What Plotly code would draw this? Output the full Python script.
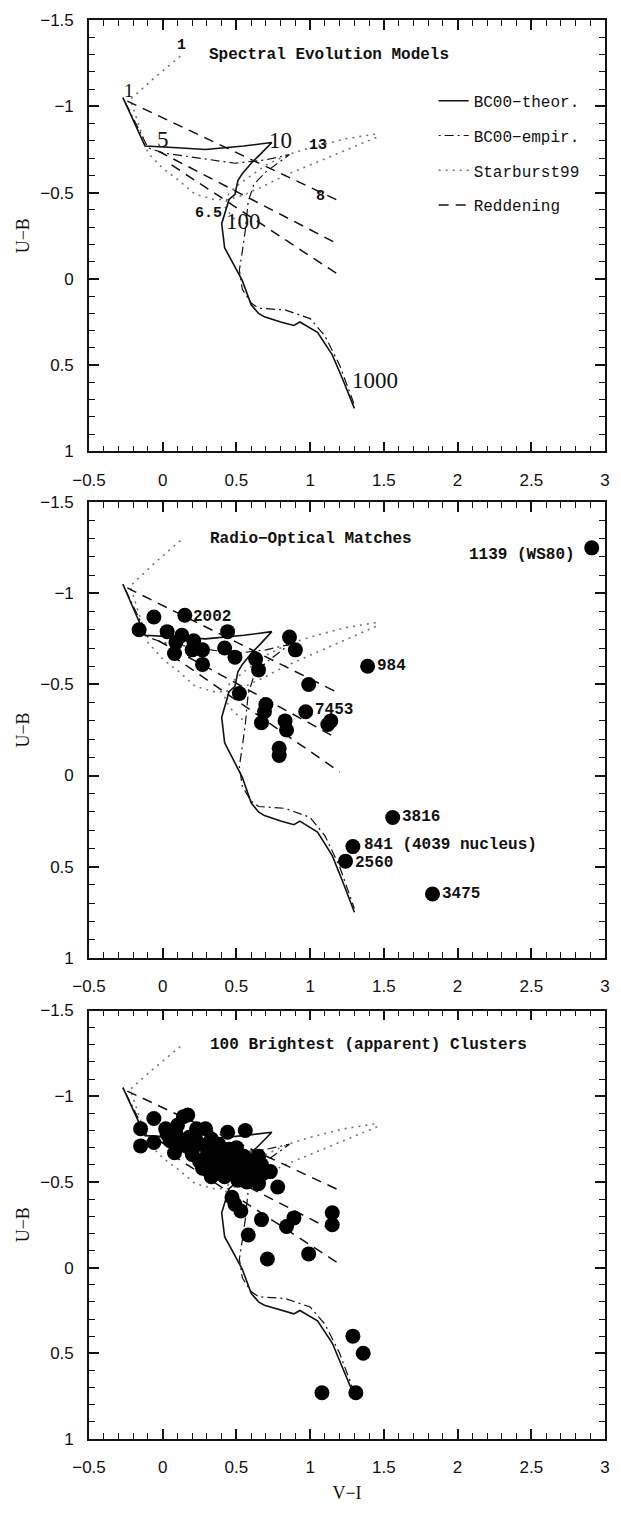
import plotly.graph_objects as go

# ---------------- data ----------------
# BC00 theoretical track (solid)
theor_vi = [-0.27, -0.12, 0.10, 0.29, 0.55, 0.74, 0.66, 0.60, 0.54, 0.51, 0.49, 0.45, 0.40, 0.42, 0.49, 0.54,
            0.60, 0.65, 0.69, 0.80, 0.89, 0.93, 1.05, 1.15, 1.22, 1.30]
theor_ub = [-1.05, -0.77, -0.76, -0.75, -0.77, -0.79, -0.72, -0.67, -0.61, -0.57, -0.49, -0.46, -0.32, -0.18, -0.07, 0.01,
            0.15, 0.20, 0.22, 0.25, 0.27, 0.25, 0.31, 0.44, 0.58, 0.75]
# BC00 empirical track (dash-dot)
empir_vi = [-0.27, -0.10, 0.00, 0.31, 0.49, 0.70, 0.86, 0.70, 0.62, 0.58, 0.56, 0.54, 0.52, 0.54, 0.60, 0.65,
            0.83, 1.00, 1.10, 1.20, 1.30]
empir_ub = [-1.05, -0.76, -0.73, -0.69, -0.67, -0.69, -0.72, -0.62, -0.55, -0.45, -0.28, -0.16, -0.05, 0.06, 0.14, 0.17,
            0.18, 0.23, 0.33, 0.50, 0.73]
# Starburst99 track (dotted)
sb99_vi = [0.12, -0.05, -0.22, -0.10, 0.00, 0.11, 0.22, 0.35, 0.45, 0.56, 0.69, 0.83, 1.00, 1.23, 1.45,
           1.45, 1.23, 1.00, 0.85, 0.70, 0.60, 0.52, 0.45, 0.42, 0.47, 0.55]
sb99_ub = [-1.29, -1.17, -1.04, -0.73, -0.64, -0.57, -0.49, -0.46, -0.46, -0.49, -0.54, -0.60, -0.66, -0.74, -0.82,
           -0.84, -0.81, -0.76, -0.72, -0.66, -0.60, -0.55, -0.50, -0.42, -0.36, -0.30]
# Reddening vectors (start / end)
red_vi0 = [-0.24, -0.03, 0.06]
red_ub0 = [-1.03, -0.74, -0.66]
red_vi1 = [1.20, 1.17, 1.20]
red_ub1 = [-0.45, -0.21, -0.02]

# Age labels (panel 1)
age_text = ["1", "5", "10", "100", "1000"]
age_vi = [-0.23, 0.00, 0.80, 0.55, 1.44]
age_ub = [-1.09, -0.81, -0.80, -0.33, 0.59]
sb_age_text = ["1", "6.5", "13", "8"]
sb_age_vi = [0.13, 0.31, 1.05, 1.07]
sb_age_ub = [-1.35, -0.38, -0.77, -0.48]

# Radio-optical matches (panel 2)
radio_vi = [-0.16, -0.06, 0.03, 0.15, 0.13, 0.09, 0.08, 0.21, 0.27, 0.20, 0.27, 0.44, 0.42, 0.49, 0.63, 0.65,
            0.86, 0.90, 0.99, 0.52, 0.70, 0.69, 0.67, 0.83, 0.84, 0.79, 0.79, 0.97, 1.14, 1.12, 1.39,
            2.91, 1.56, 1.29, 1.24, 1.83]
radio_ub = [-0.80, -0.87, -0.79, -0.88, -0.77, -0.73, -0.67, -0.74, -0.69, -0.69, -0.61, -0.79, -0.70, -0.65, -0.64, -0.58,
            -0.76, -0.69, -0.50, -0.45, -0.39, -0.35, -0.29, -0.30, -0.25, -0.15, -0.11, -0.35, -0.30, -0.28, -0.60,
            -1.25, 0.23, 0.39, 0.47, 0.65]
radio_lab = ["2002", "7453", "984", "1139 (WS80)", "3816", "841 (4039 nucleus)", "2560", "3475"]
radio_lab_vi = [0.19, 1.02, 1.44, 2.81, 1.61, 1.35, 1.29, 1.88]
radio_lab_ub = [-0.87, -0.36, -0.60, -1.21, 0.23, 0.38, 0.48, 0.65]
radio_lab_anchor = ["left", "left", "left", "right", "left", "left", "left", "left"]

# 100 brightest clusters (panel 3)
bright_vi = [0.17, 0.14, -0.06, -0.15, -0.15, -0.06, 0.02, 0.09, 0.08, 0.18, 0.23, 0.29, 0.44, 0.56, 0.16, 0.20,
             0.25, 0.33, 0.36, 0.29, 0.40, 0.45, 0.49, 0.54, 0.38, 0.42, 0.51, 0.60, 0.67, 0.73, 0.68, 0.65,
             0.78, 0.47, 0.49, 0.53, 0.67, 0.84, 0.89, 1.15, 1.15, 0.58, 0.71, 0.99, 1.29, 1.36, 1.08, 1.31,
             0.05, 0.12, 0.25, 0.30, 0.22, 0.10, 0.35, 0.45, 0.55, 0.60, 0.50, 0.38, 0.27, 0.47, 0.57, 0.65,
             0.03, 0.40, 0.33, 0.62]
bright_ub = [-0.89, -0.88, -0.87, -0.81, -0.71, -0.73, -0.81, -0.78, -0.67, -0.76, -0.81, -0.81, -0.79, -0.80, -0.71, -0.66,
             -0.62, -0.75, -0.67, -0.64, -0.62, -0.69, -0.64, -0.58, -0.56, -0.53, -0.51, -0.62, -0.60, -0.56, -0.55, -0.49,
             -0.47, -0.41, -0.37, -0.33, -0.28, -0.24, -0.29, -0.32, -0.25, -0.19, -0.05, -0.08, 0.40, 0.50, 0.73, 0.73,
             -0.74, -0.72, -0.72, -0.70, -0.76, -0.83, -0.60, -0.60, -0.65, -0.55, -0.70, -0.72, -0.58, -0.56, -0.50, -0.65,
             -0.78, -0.66, -0.53, -0.52]

panel_titles = ["Spectral Evolution Models", "Radio−Optical Matches", "100 Brightest (apparent) Clusters"]
title_vi = [0.30, 0.31, 0.31]
title_ub = [-1.30, -1.30, -1.30]
legend_names = ["BC00−theor.", "BC00−empir.", "Starburst99", "Reddening"]

x_range = [-0.5, 3.0]
y_range = [1.0, -1.5]

# ---------------- layout geometry ----------------
W, H = 621, 1521
ML, MR, MT, MB = 89, 11, 15, 82
PH = H - MT - MB
panels_px = [(15, 448), (499, 956), (1009, 1439)]


def dom(top, bot):
    return [1 - (bot - MT) / PH, 1 - (top - MT) / PH]


MONO = "Liberation Mono"
SANS = "Liberation Sans"
SERIF = "Liberation Serif"
INK = "#111111"

fig = go.Figure()

for i in range(3):
    xa = "x" if i == 0 else f"x{i+1}"
    ya = "y" if i == 0 else f"y{i+1}"
    show = (i == 0)
    rx, ry = [], []
    for a, b, c, d in zip(red_vi0, red_ub0, red_vi1, red_ub1):
        rx += [a, c, None]
        ry += [b, d, None]
    fig.add_trace(go.Scatter(x=sb99_vi, y=sb99_ub, mode="lines", xaxis=xa, yaxis=ya,
                             line=dict(color="#777777", width=1.6, dash="2px,5px"),
                             name=legend_names[2], legendgroup="c", showlegend=show, legendrank=3))
    fig.add_trace(go.Scatter(x=rx, y=ry, mode="lines", xaxis=xa, yaxis=ya,
                             line=dict(color=INK, width=1.5, dash="10px,7px"),
                             name=legend_names[3], legendgroup="d", showlegend=show, legendrank=4))
    fig.add_trace(go.Scatter(x=empir_vi, y=empir_ub, mode="lines", xaxis=xa, yaxis=ya,
                             line=dict(color=INK, width=1.2, dash="2px,4px,9px,4px"),
                             name=legend_names[1], legendgroup="b", showlegend=show, legendrank=2))
    fig.add_trace(go.Scatter(x=theor_vi, y=theor_ub, mode="lines", xaxis=xa, yaxis=ya,
                             line=dict(color=INK, width=1.6),
                             name=legend_names[0], legendgroup="a", showlegend=show, legendrank=1))
    fig.add_annotation(x=title_vi[i], y=title_ub[i], xref=xa, yref=ya, text="<b>" + panel_titles[i] + "</b>",
                       showarrow=False, xanchor="left", yanchor="middle",
                       font=dict(family=MONO, size=16, color=INK))

fig.add_trace(go.Scatter(x=radio_vi, y=radio_ub, mode="markers", xaxis="x2", yaxis="y2", showlegend=False,
                         marker=dict(color="black", size=15, line=dict(width=0))))
for t, a, b, anc in zip(radio_lab, radio_lab_vi, radio_lab_ub, radio_lab_anchor):
    fig.add_annotation(x=a, y=b, xref="x2", yref="y2", text="<b>" + t + "</b>", showarrow=False, xanchor=anc,
                       yanchor="middle", font=dict(family=MONO, size=16, color=INK))

fig.add_trace(go.Scatter(x=bright_vi, y=bright_ub, mode="markers", xaxis="x3", yaxis="y3", showlegend=False,
                         marker=dict(color="black", size=15, line=dict(width=0))))

for t, a, b in zip(age_text, age_vi, age_ub):
    fig.add_annotation(x=a, y=b, xref="x", yref="y", text=t, showarrow=False, xanchor="center",
                       yanchor="middle", font=dict(family=SERIF, size=23 if t != "1" else 19, color=INK))
for t, a, b in zip(sb_age_text, sb_age_vi, sb_age_ub):
    fig.add_annotation(x=a, y=b, xref="x", yref="y", text="<b>" + t + "</b>", showarrow=False, xanchor="center",
                       yanchor="middle", font=dict(family=MONO, size=15, color=INK))

axis_common = dict(showline=True, linecolor="rgb(20,20,20)", linewidth=1.6, mirror="ticks",
                   ticks="inside", ticklen=10, tickwidth=1.6, tickcolor="rgb(20,20,20)",
                   showgrid=False, zeroline=False, dtick=0.5, tick0=0, layer="above traces",
                   minor=dict(dtick=0.1, ticks="inside", ticklen=6, tickwidth=1.4, tickcolor="rgb(20,20,20)"),
                   tickfont=dict(family=SANS, size=17, color=INK))

layout = dict(width=W, height=H, margin=dict(l=ML, r=MR, t=MT, b=MB),
              paper_bgcolor="white", plot_bgcolor="white", showlegend=True,
              legend=dict(x=(437 - ML) / (W - ML - MR), y=1 - (79 - MT) / PH, xanchor="left", yanchor="top",
                          bgcolor="rgba(0,0,0,0)", font=dict(family=MONO, size=16, color=INK),
                          tracegroupgap=11, itemwidth=30))
for i, (top, bot) in enumerate(panels_px):
    sx = "" if i == 0 else str(i + 1)
    xa = dict(axis_common, range=x_range, domain=[0, 1], anchor="y" + sx, ticklabelstandoff=12)
    ya = dict(axis_common, range=y_range, domain=dom(top, bot), anchor="x" + sx, ticklabelstandoff=10,
              title=dict(text="U−B", font=dict(family=SERIF, size=18, color=INK), standoff=6))
    if i == 2:
        xa["title"] = dict(text="V−I", font=dict(family=SERIF, size=18, color=INK), standoff=10)
    layout["xaxis" + sx] = xa
    layout["yaxis" + sx] = ya

fig.update_layout(**layout)
fig.write_html("out.html")
